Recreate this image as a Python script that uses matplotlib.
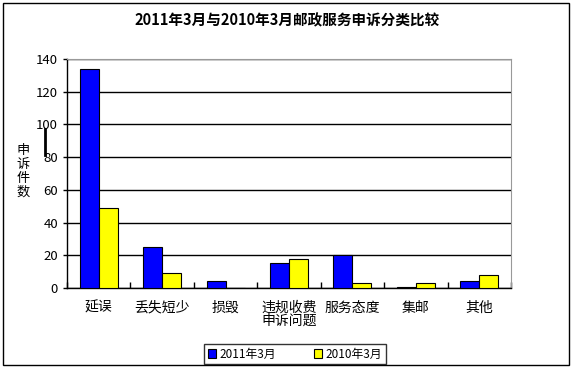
import matplotlib.pyplot as plt
import numpy as np
from matplotlib.patches import Rectangle
from matplotlib.lines import Line2D

plt.rcParams['font.family'] = ['Noto Sans CJK SC', 'DejaVu Sans']

categories = ["延误", "丢失短少", "损毁", "违规收费\n申诉问题", "服务态度", "集邮", "其他"]
v2011 = [134, 25, 4, 15, 20, 0.5, 4]
v2010 = [49, 9, 0, 18, 3, 3, 8]
series_names = ["2011年3月", "2010年3月"]

fig = plt.figure(figsize=(5.74, 3.69), dpi=100)
fig.patches.append(Rectangle((0.006, 0.012), 0.985, 0.98, transform=fig.transFigure,
                             fill=False, edgecolor="black", linewidth=1))

ax = fig.add_axes([0.1167, 0.2195, 0.7735, 0.6206])
x = np.arange(len(categories))
w = 0.3
ax.bar(x - w/2, v2011, w, color="#0000FF", edgecolor="black", linewidth=0.8,
       label=series_names[0], zorder=3)
ax.bar(x + w/2, v2010, w, color="#FFFF00", edgecolor="black", linewidth=0.8,
       label=series_names[1], zorder=3)

ax.set_xlim(-0.5, len(categories) - 0.5)
ax.set_ylim(0, 140)
ax.set_yticks(range(0, 141, 20))
ax.tick_params(axis="y", labelsize=9.5, length=3, width=1)
ax.yaxis.grid(True, color="black", linewidth=1, zorder=0)
ax.set_xticks(x)
ax.set_xticklabels(categories, fontsize=10, linespacing=0.95)
ax.tick_params(axis="x", length=0, pad=9)
# category boundary ticks
ax.set_xticks(np.arange(-0.5, len(categories)), minor=True)
ax.tick_params(axis="x", which="minor", direction="in", length=4, width=1)

for s in ["top", "right"]:
    ax.spines[s].set_color("#999999")
for s in ["left", "bottom"]:
    ax.spines[s].set_linewidth(1)

fig.text(0.5, 0.945, "2011年3月与2010年3月邮政服务申诉分类比较", ha="center", va="center",
         fontsize=10.5, fontweight="bold")
fig.text(0.04, 0.535, "申\n诉\n件\n数", ha="center", va="center", fontsize=9.5, linespacing=1.1)
fig.add_artist(Line2D([0.079, 0.079], [0.58, 0.65], color="black", linewidth=2,
                      transform=fig.transFigure))

leg = fig.legend(loc="center", bbox_to_anchor=(0.514, 0.04), ncol=2, fontsize=8.5,
                 frameon=True, fancybox=False, edgecolor="black", handlelength=0.7,
                 handleheight=0.7, handletextpad=0.3, columnspacing=3.2,
                 borderpad=0.3, borderaxespad=0)
leg.get_frame().set_linewidth(1)

fig.savefig("out.png", dpi=100)
